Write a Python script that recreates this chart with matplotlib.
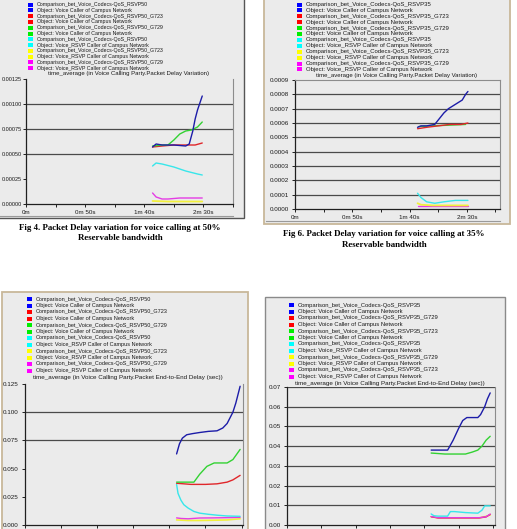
import matplotlib
matplotlib.use("Agg")
import matplotlib.pyplot as plt
from matplotlib.patches import Rectangle
from matplotlib.lines import Line2D

W, H = 517, 529

# ---------------- data ----------------
# Panel 1 : Packet Delay Variation, 50% reservable bandwidth
p1_t_blue = [107, 110, 115, 125, 135, 138, 141, 143, 145, 147, 149]
p1_blue = [0.00057, 0.00060, 0.00059, 0.00059, 0.00058, 0.00060, 0.00073, 0.00085, 0.00094, 0.00101, 0.00108]
p1_t_red = [107, 115, 125, 135, 143, 149]
p1_red = [0.00057, 0.00058, 0.00059, 0.00059, 0.00059, 0.00061]
p1_t_green = [107, 115, 120, 125, 130, 135, 140, 145, 149]
p1_green = [0.00058, 0.00059, 0.00059, 0.00064, 0.00070, 0.00073, 0.00074, 0.00077, 0.00082]
p1_t_cyan = [107, 110, 115, 125, 135, 145, 149]
p1_cyan = [0.00038, 0.00041, 0.00040, 0.00037, 0.00033, 0.00030, 0.00029]
p1_t_yellow = [107, 120, 135, 149]
p1_yellow = [0.00003, 0.000025, 0.000025, 0.000025]
p1_t_magenta = [107, 110, 115, 120, 130, 140, 149]
p1_magenta = [0.00011, 0.00007, 0.00005, 0.00005, 0.00006, 0.00006, 0.00006]

# Panel 2 : Packet Delay Variation, 35% reservable bandwidth
p2_t_blue = [107, 110, 115, 122, 126, 130, 134, 138, 142, 146, 149, 151]
p2_blue = [0.00057, 0.00058, 0.00058, 0.00059, 0.00063, 0.00067, 0.00070, 0.00072, 0.00074, 0.00076, 0.00080, 0.00082]
p2_t_red = [107, 115, 125, 135, 145, 151]
p2_red = [0.00056, 0.00057, 0.00058, 0.00059, 0.00059, 0.00060]
p2_t_green = [108, 120, 135, 149]
p2_green = [0.000575, 0.00058, 0.000585, 0.00059]
p2_t_cyan = [107, 110, 115, 122, 130, 140, 151]
p2_cyan = [0.00011, 0.00008, 0.00005, 0.00004, 0.00005, 0.00006, 0.00006]
p2_t_yellow = [107, 110, 120, 135, 151]
p2_yellow = [0.00004, 0.00003, 0.000025, 0.000025, 0.000025]
p2_t_magenta = [107, 151]
p2_magenta = [0.000022, 0.000022]

# Panel 3 : End-to-End Delay, 50%
p3_t_blue = [105, 107, 109, 112, 116, 121, 127, 133, 137, 140, 142, 144, 146, 149]
p3_blue = [0.063, 0.072, 0.077, 0.080, 0.081, 0.082, 0.083, 0.0835, 0.086, 0.090, 0.095, 0.100, 0.108, 0.123]
p3_t_red = [105, 115, 125, 133, 140, 144, 149]
p3_red = [0.037, 0.036, 0.036, 0.0365, 0.038, 0.040, 0.044]
p3_t_green = [105, 117, 121, 126, 131, 140, 144, 149]
p3_green = [0.038, 0.038, 0.045, 0.052, 0.055, 0.055, 0.058, 0.067]
p3_t_cyan = [105, 106, 108, 110, 113, 117, 121, 127, 133, 140, 149]
p3_cyan = [0.036, 0.028, 0.022, 0.018, 0.015, 0.012, 0.0105, 0.0095, 0.0087, 0.0080, 0.0077]
p3_t_yellow = [105, 113, 121, 130, 140, 149]
p3_yellow = [0.0045, 0.0040, 0.0040, 0.0042, 0.0045, 0.0055]
p3_t_magenta = [105, 108, 113, 121, 130, 140, 149]
p3_magenta = [0.0063, 0.0058, 0.0055, 0.0062, 0.0063, 0.0065, 0.0068]

# Panel 4 : End-to-End Delay, 35%
p4_t_blue = [105, 110, 117, 121, 125, 128, 131, 135, 139, 141, 144, 146, 148]
p4_blue = [0.038, 0.038, 0.038, 0.043, 0.049, 0.053, 0.0545, 0.0545, 0.0545, 0.056, 0.060, 0.064, 0.067]
p4_t_red = [105, 110, 125, 140, 145, 148]
p4_red = [0.0042, 0.0036, 0.0036, 0.0036, 0.0041, 0.0054]
p4_t_green = [105, 115, 125, 130, 135, 139, 142, 145, 148]
p4_green = [0.0365, 0.036, 0.036, 0.036, 0.037, 0.038, 0.040, 0.043, 0.045]
p4_t_cyan = [105, 107, 110, 117, 119, 122, 130, 139, 142, 144, 148]
p4_cyan = [0.0056, 0.0047, 0.0045, 0.0045, 0.0068, 0.0068, 0.0063, 0.0060, 0.0075, 0.0097, 0.0097]
p4_t_yellow = [105, 110, 125, 140, 148]
p4_yellow = [0.0041, 0.0036, 0.0036, 0.0036, 0.0050]
p4_t_magenta = [105, 110, 125, 140, 145, 148]
p4_magenta = [0.0043, 0.0037, 0.0037, 0.0037, 0.0042, 0.0055]

legend_p1 = [
    "Comparison_bet_Voice_Codecs-QoS_RSVP50", "Object: Voice Caller of Campus Network",
    "Comparison_bet_Voice_Codecs-QoS_RSVP50_G723", "Object: Voice Caller of Campus Network",
    "Comparison_bet_Voice_Codecs-QoS_RSVP50_G729", "Object: Voice Caller of Campus Network",
    "Comparison_bet_Voice_Codecs-QoS_RSVP50", "Object: Voice_RSVP Caller of Campus Network",
    "Comparison_bet_Voice_Codecs-QoS_RSVP50_G723", "Object: Voice_RSVP Caller of Campus Network",
    "Comparison_bet_Voice_Codecs-QoS_RSVP50_G729", "Object: Voice_RSVP Caller of Campus Network",
]
legend_p2 = [
    "Comparison_bet_Voice_Codecs-QoS_RSVP35", "Object: Voice Caller of Campus Network",
    "Comparison_bet_Voice_Codecs-QoS_RSVP35_G723", "Object: Voice Caller of Campus Network",
    "Comparison_bet_Voice_Codecs-QoS_RSVP35_G729", "Object: Voice Caller of Campus Network",
    "Comparison_bet_Voice_Codecs-QoS_RSVP35", "Object: Voice_RSVP Caller of Campus Network",
    "Comparison_bet_Voice_Codecs-QoS_RSVP35_G723", "Object: Voice_RSVP Caller of Campus Network",
    "Comparison_bet_Voice_Codecs-QoS_RSVP35_G729", "Object: Voice_RSVP Caller of Campus Network",
]
legend_p3 = legend_p1
legend_p4 = [
    "Comparison_bet_Voice_Codecs-QoS_RSVP35", "Object: Voice Caller of Campus Network",
    "Comparison_bet_Voice_Codecs-QoS_RSVP35_G729", "Object: Voice Caller of Campus Network",
    "Comparison_bet_Voice_Codecs-QoS_RSVP35_G723", "Object: Voice Caller of Campus Network",
    "Comparison_bet_Voice_Codecs-QoS_RSVP35", "Object: Voice_RSVP Caller of Campus Network",
    "Comparison_bet_Voice_Codecs-QoS_RSVP35_G729", "Object: Voice_RSVP Caller of Campus Network",
    "Comparison_bet_Voice_Codecs-QoS_RSVP35_G723", "Object: Voice_RSVP Caller of Campus Network",
]
title_pdv = "time_average (in Voice Calling Party.Packet Delay Variation)"
title_e2e = "time_average (in Voice Calling Party.Packet End-to-End Delay (sec))"

p1_yticks = [0, 0.00025, 0.0005, 0.00075, 0.001, 0.00125]
p1_ylabels = ["0.00000", "0.00025", "0.00050", "0.00075", "0.00100", "0.00125"]
p2_yticks = [0, 0.0001, 0.0002, 0.0003, 0.0004, 0.0005, 0.0006, 0.0007, 0.0008, 0.0009]
p2_ylabels = ["0.0000", "0.0001", "0.0002", "0.0003", "0.0004", "0.0005", "0.0006", "0.0007", "0.0008", "0.0009"]
p3_yticks = [0, 0.025, 0.05, 0.075, 0.1, 0.125]
p3_ylabels = ["0.000", "0.025", "0.050", "0.075", "0.100", "0.125"]
p4_yticks = [0, 0.01, 0.02, 0.03, 0.04, 0.05, 0.06, 0.07]
p4_ylabels = ["0.00", "0.01", "0.02", "0.03", "0.04", "0.05", "0.06", "0.07"]
top_xticks = [0, 50, 100, 150]
top_xlabels = ["0m", "0m 50s", "1m 40s", "2m 30s"]
minor_xticks = [25, 75, 125, 175]
bottom_xticks = [0, 25, 50, 75, 100, 125, 150]

caption1 = ["Fig 4. Packet Delay variation for voice calling at 50%", "Reservable bandwidth"]
caption2 = ["Fig 6. Packet Delay variation for voice calling at 35%", "Reservable bandwidth"]

# ---------------- styling ----------------
SW_COL = ["#0000ff", "#0000ff", "#ff0000", "#ff0000", "#00ee00", "#00ee00",
          "#00ffff", "#00ffff", "#ffff00", "#ffff00", "#ff00ff", "#ff00ff"]
LN_COL = {"blue": "#1c1ca8", "red": "#e0262a", "green": "#33d233",
          "cyan": "#38e6ea", "yellow": "#f2f03c", "magenta": "#e43ce4"}
BG = "#ebebeb"
FONT = "Liberation Sans"

fig = plt.figure(figsize=(W / 100, H / 100), dpi=100)
fig.patch.set_facecolor("white")


def fx(x):
    return x / W


def fy(y):
    return 1 - y / H


def frame(x0, y0, x1, y1, edge, lw=1.0):
    fig.add_artist(Rectangle((fx(x0), fy(y1)), (x1 - x0) / W, (y1 - y0) / H,
                             transform=fig.transFigure, facecolor=BG,
                             edgecolor=edge, linewidth=lw, zorder=-5))


def hline(x0, x1, y, color, lw=0.8):
    fig.add_artist(Line2D([fx(x0), fx(x1)], [fy(y), fy(y)], transform=fig.transFigure,
                          color=color, linewidth=lw, zorder=-4))


def legend(entries, sq_x, txt_x, y0, dy, title, title_cx, title_y, fs, tfs):
    for i, s in enumerate(entries):
        y = y0 + i * dy
        fig.add_artist(Rectangle((fx(sq_x), fy(y + 2)), 5 / W, 4 / H,
                                 transform=fig.transFigure, facecolor=SW_COL[i],
                                 edgecolor="none", zorder=2))
        fig.text(fx(txt_x), fy(y), s, fontsize=fs, family=FONT, color="#1a1a1a",
                 ha="left", va="center")
    fig.text(fx(title_cx), fy(title_y), title, fontsize=tfs, family=FONT,
             color="#1a1a1a", ha="center", va="center")


def make_axes(l, r, t, b, xlim, ylim):
    ax = fig.add_axes([fx(l), fy(b), (r - l) / W, (b - t) / H])
    ax.set_facecolor(BG)
    ax.set_xlim(*xlim)
    ax.set_ylim(*ylim)
    ax.spines["top"].set_visible(False)
    ax.spines["right"].set_color("#8c8c8c")
    ax.spines["right"].set_linewidth(0.8)
    ax.spines["left"].set_color("#202020")
    ax.spines["bottom"].set_color("#202020")
    ax.spines["left"].set_linewidth(0.9)
    ax.spines["bottom"].set_linewidth(0.9)
    ax.tick_params(axis="both", which="both", length=2.5, width=0.7, color="#202020",
                   labelsize=4.5, pad=2, labelcolor="#1a1a1a")
    return ax


def plot_series(ax, series):
    for t, v, c, lw in series:
        ax.plot(t, v, color=LN_COL[c], linewidth=lw, solid_capstyle="round", zorder=3)


def grid(ax, levels):
    for lv in levels:
        ax.axhline(lv, color="#4a4a4a", linewidth=0.9, zorder=1)


def ticklabels(ax, yt, yl, xt=None, xl=None, yfs=4.5):
    ax.set_yticks(yt)
    ax.set_yticklabels(yl, family=FONT, fontsize=yfs)
    if xt is not None:
        ax.set_xticks(xt)
        ax.set_xticklabels(xl, family=FONT, fontsize=4.5)


# ---------------- frames ----------------
frame(-2, -2, 244, 218, "#555555", 1.0)
frame(264, -2, 510, 224, "#c8b79a", 1.3)
frame(2, 292, 248, 545, "#c8b79a", 1.3)
frame(265, 297, 505, 545, "#8a8a8a", 1.0)
hline(0, 233, 216, "#9a9a9a")
hline(266, 500, 221, "#9a9a9a")

# ---------------- legends ----------------
legend(legend_p1, 28, 37, 4.5, 5.8, title_pdv, 129, 73, 3.8, 4.3)
legend(legend_p2, 297, 306, 4.5, 5.9, title_pdv, 397, 76, 4.3, 4.3)
legend(legend_p3, 27, 36, 299, 6.5, title_e2e, 128, 377, 4.0, 4.5)
legend(legend_p4, 289, 298, 305, 6.5, title_e2e, 390, 383, 4.2, 4.5)

# ---------------- panel 1 ----------------
ax1 = make_axes(26, 233, 79, 204, (0, 175), (0, 0.00125))
grid(ax1, [0.0005, 0.00075, 0.001])
plot_series(ax1, [
    (p1_t_yellow, p1_yellow, "yellow", 1.3),
    (p1_t_magenta, p1_magenta, "magenta", 1.0),
    (p1_t_cyan, p1_cyan, "cyan", 1.0),
    (p1_t_red, p1_red, "red", 1.0),
    (p1_t_green, p1_green, "green", 1.0),
    (p1_t_blue, p1_blue, "blue", 1.0),
])
ticklabels(ax1, p1_yticks, p1_ylabels, top_xticks, top_xlabels, yfs=4.0)
ax1.set_xticks(minor_xticks, minor=True)
ax1.tick_params(axis="y", length=2, pad=1)

# ---------------- panel 2 ----------------
ax2 = make_axes(295, 500, 80, 209, (0, 179), (0, 0.0009))
grid(ax2, p2_yticks[1:-1])
ax2.spines["top"].set_visible(True)
ax2.spines["top"].set_color("#8c8c8c")
ax2.spines["top"].set_linewidth(0.8)
plot_series(ax2, [
    (p2_t_magenta, p2_magenta, "magenta", 1.0),
    (p2_t_yellow, p2_yellow, "yellow", 1.3),
    (p2_t_cyan, p2_cyan, "cyan", 1.0),
    (p2_t_green, p2_green, "green", 1.0),
    (p2_t_red, p2_red, "red", 1.0),
    (p2_t_blue, p2_blue, "blue", 1.0),
])
ticklabels(ax2, p2_yticks, p2_ylabels, top_xticks, top_xlabels)
ax2.set_xticks(minor_xticks, minor=True)

# ---------------- panel 3 ----------------
ax3 = make_axes(25, 243, 384, 525, (0, 151), (0, 0.125))
grid(ax3, [0.075, 0.1])
plot_series(ax3, [
    (p3_t_yellow, p3_yellow, "yellow", 1.2),
    (p3_t_magenta, p3_magenta, "magenta", 1.0),
    (p3_t_cyan, p3_cyan, "cyan", 1.0),
    (p3_t_red, p3_red, "red", 1.0),
    (p3_t_green, p3_green, "green", 1.0),
    (p3_t_blue, p3_blue, "blue", 1.0),
])
ticklabels(ax3, p3_yticks, p3_ylabels)
ax3.set_xticks(bottom_xticks)
ax3.set_xticklabels([])

# ---------------- panel 4 ----------------
ax4 = make_axes(287, 495, 387, 525, (0, 151.5), (0, 0.07))
grid(ax4, p4_yticks[1:])
plot_series(ax4, [
    (p4_t_yellow, p4_yellow, "yellow", 1.0),
    (p4_t_red, p4_red, "red", 1.0),
    (p4_t_magenta, p4_magenta, "magenta", 1.0),
    (p4_t_cyan, p4_cyan, "cyan", 1.0),
    (p4_t_green, p4_green, "green", 1.0),
    (p4_t_blue, p4_blue, "blue", 1.0),
])
ticklabels(ax4, p4_yticks, p4_ylabels)
ax4.set_xticks(bottom_xticks)
ax4.set_xticklabels([])

# ---------------- captions ----------------
for i, s in enumerate(caption1):
    fig.text(fx(120), fy(228 + i * 10.5), s, family="Liberation Serif", weight="bold",
             fontsize=6.4, ha="center", va="center", color="black")
for i, s in enumerate(caption2):
    fig.text(fx(384), fy(234 + i * 10.5), s, family="Liberation Serif", weight="bold",
             fontsize=6.4, ha="center", va="center", color="black")

fig.savefig("out.png", dpi=100)
